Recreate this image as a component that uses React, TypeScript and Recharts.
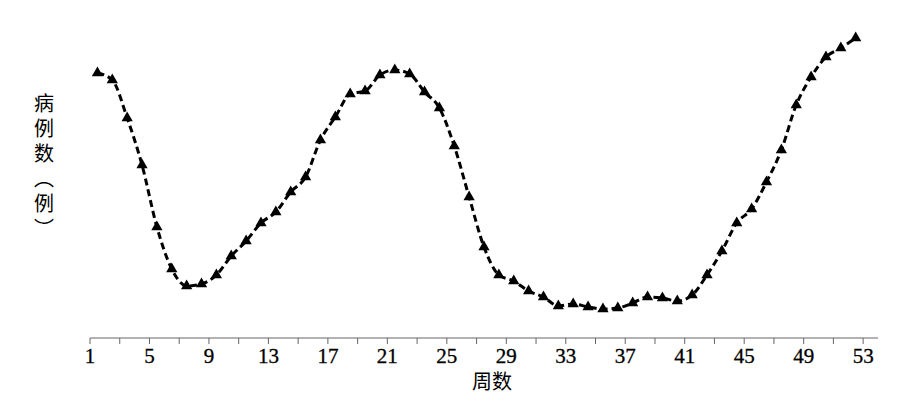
import { LineChart, Line, XAxis, YAxis, Label, Symbols } from 'recharts';

// week numbers (1..52) and weekly case counts
const weeks = [
  1, 2, 3, 4, 5, 6, 7, 8, 9, 10, 11, 12, 13, 14, 15, 16, 17, 18, 19, 20, 21, 22, 23, 24, 25, 26,
  27, 28, 29, 30, 31, 32, 33, 34, 35, 36, 37, 38, 39, 40, 41, 42, 43, 44, 45, 46, 47, 48, 49, 50,
  51, 52,
];

const cases = [
  265, 258, 220, 173, 111, 69, 52, 54, 63, 82, 97, 115, 126, 146, 161, 198, 221, 244, 247, 263,
  268, 264, 246, 230, 192, 141, 91, 63, 57, 47, 41, 32, 34, 31, 29, 30, 35, 41, 40, 37, 43, 63, 87,
  115, 129, 156, 188, 233, 261, 281, 290, 300,
];

const weekTicks = [1, 3, 5, 7, 9, 11, 13, 15, 17, 19, 21, 23, 25, 27, 29, 31, 33, 35, 37, 39, 41, 43, 45, 47, 49, 51, 53];

const data = weeks.map((w, i) => ({ week: w, cases: cases[i] }));

const serif = '"Liberation Serif", "DejaVu Serif", serif';
const cjk = '"Noto Sans CJK SC", sans-serif';

function TriangleDot(props: any) {
  const { cx, cy, index } = props;
  return <Symbols key={`dot-${index}`} cx={cx} cy={cy} type="triangle" size={55} fill="#000" />;
}

export default function App() {
  return (
    <LineChart width={885} height={390} data={data} margin={{ top: 20, right: 15, bottom: 10, left: 81 }}>
      <XAxis
        type="number"
        dataKey={(d: any) => d.week + 0.5}
        domain={[1, 54]}
        ticks={weekTicks}
        interval={0}
        height={50}
        tickSize={6}
        tickMargin={4}
        stroke="#666"
        tick={{ fill: '#000', fontSize: 21, fontFamily: serif, stroke: '#000', strokeWidth: 0.3 }}
        tickFormatter={(v: number) => ((v - 1) % 4 === 0 ? String(v) : '')}
      >
        <Label
          content={({ viewBox }: any) => (
            <text
              x={viewBox.x + viewBox.width / 2 + 8}
              y={viewBox.y + 51}
              textAnchor="middle"
              fontSize={20}
              fontFamily={cjk}
              fill="#000"
            >
              周数
            </text>
          )}
        />
      </XAxis>
      <YAxis domain={[0, 310]} width={1} axisLine={false} tick={false} tickLine={false}>
        <Label
          content={({ viewBox }: any) => (
            <text
              x={viewBox.x - 45}
              y={85}
              fontSize={20}
              fontFamily={cjk}
              fill="#000"
              letterSpacing={5}
              style={{ writingMode: 'vertical-rl' }}
            >
              病例数（例）
            </text>
          )}
        />
      </YAxis>
      <Line
        type="monotone"
        dataKey="cases"
        stroke="#000"
        strokeWidth={3}
        strokeDasharray="7 4"
        dot={TriangleDot}
        activeDot={false}
        isAnimationActive={false}
      />
    </LineChart>
  );
}
